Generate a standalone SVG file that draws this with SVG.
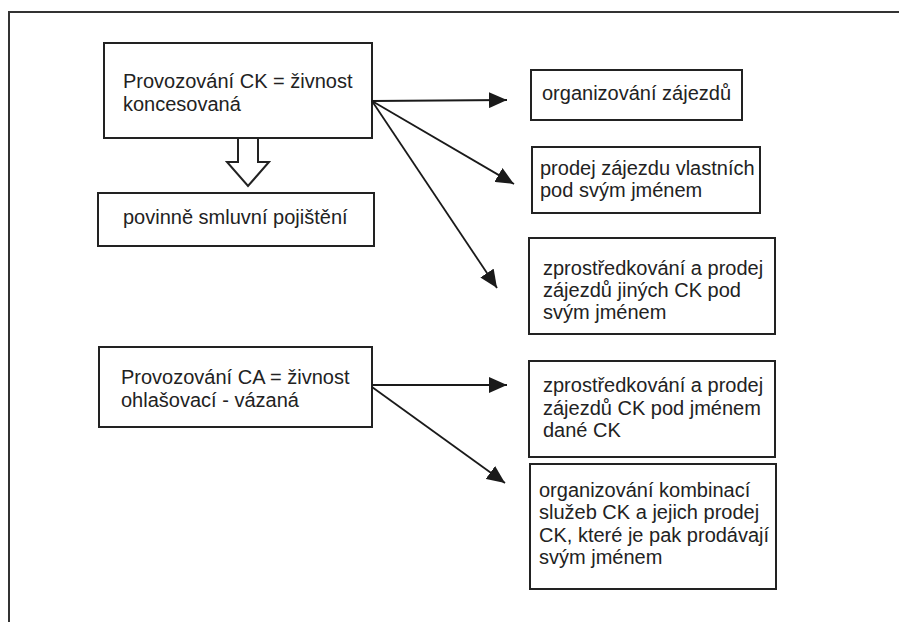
<svg xmlns="http://www.w3.org/2000/svg" width="899" height="622" viewBox="0 0 899 622">
<defs>
<style>
.box{fill:#fff;stroke:#222;stroke-width:2}
.t{font-family:"Liberation Sans",Arial,sans-serif;font-size:20px;fill:#222}
.c{stroke:#1a1a1a;stroke-width:1.8;fill:none}
.frame{stroke:#333;stroke-width:2;fill:none}
</style>
<marker id="ah" viewBox="0 0 18 16" refX="18" refY="8" markerWidth="18" markerHeight="16" markerUnits="userSpaceOnUse" orient="auto">
<path d="M0,0 L18,8 L0,16 z" fill="#1a1a1a"/>
</marker>
</defs>
<rect width="899" height="622" fill="#fff"/>
<path class="frame" d="M9,622 V12 H899"/>

<g id="ck">
<rect class="box" x="104" y="43" width="268" height="95"/>
<text class="t" x="123" y="88">Provozování CK = živnost</text>
<text class="t" x="123" y="111">koncesovaná</text>
</g>

<g id="pojisteni">
<rect class="box" x="98" y="193" width="276" height="53"/>
<text class="t" x="123" y="224">povinně smluvní pojištění</text>
</g>

<g id="ca">
<rect class="box" x="99" y="347" width="273" height="80"/>
<text class="t" x="121" y="384">Provozování CA = živnost</text>
<text class="t" x="121" y="407">ohlašovací - vázaná</text>
</g>

<g id="organizovani">
<rect class="box" x="531" y="70" width="211" height="50"/>
<text class="t" x="542" y="100">organizování zájezdů</text>
</g>

<g id="prodej">
<rect class="box" x="532" y="147" width="228" height="66"/>
<text class="t" x="540" y="175">prodej zájezdu vlastních</text>
<text class="t" x="540" y="197">pod svým jménem</text>
</g>

<g id="zprostredkovani1">
<rect class="box" x="529" y="238" width="246" height="96"/>
<text class="t" x="543" y="275">zprostředkování a prodej</text>
<text class="t" x="543" y="297">zájezdů jiných CK pod</text>
<text class="t" x="543" y="319">svým jménem</text>
</g>

<g id="zprostredkovani2">
<rect class="box" x="529" y="361" width="246" height="96"/>
<text class="t" x="543" y="392">zprostředkování a prodej</text>
<text class="t" x="543" y="415">zájezdů CK pod jménem</text>
<text class="t" x="543" y="437">dané CK</text>
</g>

<g id="kombinace">
<rect class="box" x="530" y="464" width="246" height="125"/>
<text class="t" x="539" y="497">organizování kombinací</text>
<text class="t" x="539" y="519">služeb CK a jejich prodej</text>
<text class="t" x="539" y="542">CK, které je pak prodávají</text>
<text class="t" x="539" y="564">svým jménem</text>
</g>

<g id="connectors">
<polygon points="238,138 258,138 258,162 269,162 248,186 227,162 238,162" fill="#fff" stroke="#222" stroke-width="2"/>
<line class="c" x1="372" y1="101" x2="507" y2="100" marker-end="url(#ah)"/>
<line class="c" x1="372" y1="101" x2="514" y2="184" marker-end="url(#ah)"/>
<line class="c" x1="372" y1="101" x2="497" y2="288" marker-end="url(#ah)"/>
<line class="c" x1="372" y1="385" x2="507" y2="385" marker-end="url(#ah)"/>
<line class="c" x1="372" y1="387" x2="505" y2="483" marker-end="url(#ah)"/>
</g>
</svg>
